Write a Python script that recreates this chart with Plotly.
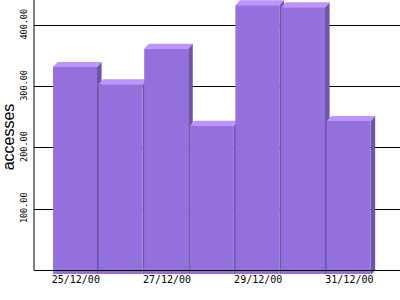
import plotly.graph_objects as go

# ---- data ----
dates = ["25/12/00", "26/12/00", "27/12/00", "28/12/00", "29/12/00", "30/12/00", "31/12/00"]
accesses = [332, 304, 362, 236, 433, 430, 244]
tick_dates = ["25/12/00", "27/12/00", "29/12/00", "31/12/00"]
y_ticks = [100, 200, 300, 400]
y_tick_text = ["100.00", "200.00", "300.00", "400.00"]

# ---- style ----
FRONT = "#9370DB"
TOP = "#BE92FF"
SIDE = "#6F55AA"

W, H = 400, 300
ML, MR, MT, MB = 34, 0, 0, 26
x_range = [-0.917, 7.11]
y_range = [-6.2, 441.7]
px_x = (W - ML - MR) / (x_range[1] - x_range[0])
px_y = (H - MT - MB) / (y_range[1] - y_range[0])
dx = 4.6 / px_x      # 3D depth, horizontal (data units)
dy = 5.0 / px_y      # 3D depth, vertical (data units)
gap = 1.6 / px_x     # visible slice of the side between bars

idx = list(range(len(dates)))

fx, fy, tx, ty, sx, sy = [], [], [], [], [], []
for i, v in zip(idx, accesses):
    x0 = i - 0.5
    x1 = i + 0.5 - gap
    # front
    fx += [x0, x1, x1, x0, x0, None]
    fy += [-dy, -dy, v, v, -dy, None]
    # top
    tx += [x0, x0 + dx, x1 + dx, x1, x0, None]
    ty += [v, v + dy, v + dy, v, v, None]
    # side
    sx += [x1, x1 + dx, x1 + dx, x1, x1, None]
    sy += [-dy, 0, v + dy, v, -dy, None]

fig = go.Figure()
for xs, ys, col in [(sx, sy, SIDE), (tx, ty, TOP), (fx, fy, FRONT)]:
    fig.add_trace(go.Scatter(x=xs, y=ys, mode="lines", fill="toself",
                             fillcolor=col, line=dict(width=0, color=col),
                             hoverinfo="skip", showlegend=False))

zero_pos = (0 - y_range[0]) / (y_range[1] - y_range[0])

# y axis line from the baseline up to the top of the plot
fig.add_shape(type="line", xref="x domain", yref="y",
              x0=0, x1=0, y0=0, y1=y_range[1],
              line=dict(color="black", width=1), layer="above")

fig.update_layout(
    width=W, height=H,
    margin=dict(l=ML, r=MR, t=MT, b=MB, pad=0),
    paper_bgcolor="white", plot_bgcolor="white",
    showlegend=False,
    xaxis=dict(
        range=x_range, anchor="free", position=zero_pos,
        showline=True, linecolor="black", linewidth=1, layer="above traces",
        showgrid=False, zeroline=False,
        tickmode="array", tickvals=[dates.index(d) for d in tick_dates],
        ticktext=tick_dates, ticks="",
        tickfont=dict(family="DejaVu Sans Mono", size=10, color="black"),
    ),
    yaxis=dict(
        range=y_range,
        showline=False,
        showgrid=True, gridcolor="black", gridwidth=1,
        zeroline=False,
        tickmode="array", tickvals=y_ticks, ticktext=y_tick_text,
        tickangle=-90, ticks="outside", ticklen=3, tickcolor="rgba(0,0,0,0)",
        tickfont=dict(family="DejaVu Sans Mono", size=8.5, color="black"),
        title=dict(text="accesses", standoff=0,
                   font=dict(family="Liberation Sans", size=16, color="black")),
    ),
)

fig.write_html("out.html")
